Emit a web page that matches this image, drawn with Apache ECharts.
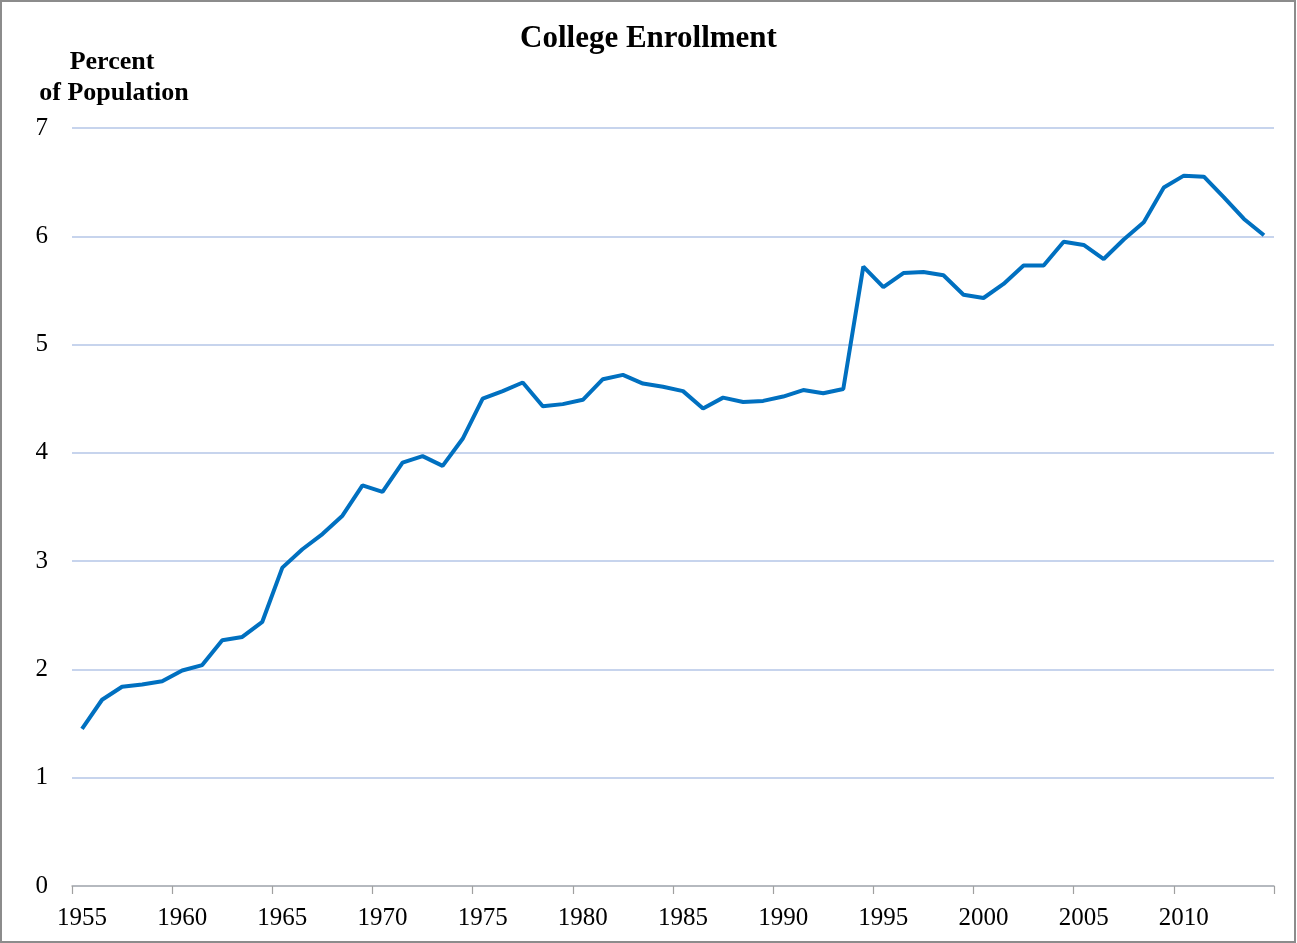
<!DOCTYPE html>
<html>
<head>
<meta charset="utf-8">
<title>College Enrollment</title>
<script src="https://cdn.jsdelivr.net/npm/echarts@6/dist/echarts.min.js"></script>
<style>
  html, body { margin: 0; padding: 0; background: #fff; }
  #chart { position: absolute; left: 0; top: 0; width: 1297px; height: 943px; }
  #frame {
    position: absolute; left: 0; top: 0; width: 1296px; height: 943px;
    box-sizing: border-box; border: 2px solid #8c8c8c; pointer-events: none;
  }
</style>
</head>
<body>
<div id="chart"></div>
<div id="frame"></div>
<script>
// years 1955 - 2014
const years = []
for (let y = 1955; y <= 2014; y++) years.push(String(y))

// percent of population enrolled in college
const enrollment = [
  1.45, 1.72, 1.84, 1.86, 1.89, 1.99, 2.04, 2.27, 2.30, 2.44,
  2.94, 3.11, 3.25, 3.42, 3.70, 3.64, 3.91, 3.97, 3.88, 4.13,
  4.50, 4.57, 4.65, 4.43, 4.45, 4.49, 4.68, 4.72, 4.64, 4.61,
  4.57, 4.41, 4.51, 4.47, 4.48, 4.52, 4.58, 4.55, 4.59, 5.72,
  5.53, 5.66, 5.67, 5.64, 5.46, 5.43, 5.56, 5.73, 5.73, 5.95,
  5.92, 5.79, 5.97, 6.13, 6.45, 6.56, 6.55, 6.36, 6.16, 6.01
]

const serif = '"Liberation Serif", "Times New Roman", serif'

const chart = echarts.init(document.getElementById('chart'))
chart.setOption({
  animation: false,
  title: {
    text: 'College Enrollment',
    left: 'center',
    top: 18,
    textStyle: { fontFamily: serif, fontSize: 31, fontWeight: 'bold', color: '#000' }
  },
  graphic: [
    {
      type: 'text',
      x: 112,
      y: 62,
      style: {
        text: 'Percent',
        font: 'bold 26px ' + serif,
        align: 'center', textAlign: 'center',
        verticalAlign: 'middle', textVerticalAlign: 'middle',
        fill: '#000'
      }
    },
    {
      type: 'text',
      x: 114,
      y: 93,
      style: {
        text: 'of Population',
        font: 'bold 26px ' + serif,
        align: 'center', textAlign: 'center',
        verticalAlign: 'middle', textVerticalAlign: 'middle',
        fill: '#000'
      }
    }
  ],
  grid: { left: 72, right: 23, top: 128, bottom: 57, containLabel: false },
  xAxis: {
    type: 'category',
    data: years,
    boundaryGap: true,
    axisLine: { lineStyle: { color: '#b0b0b0', width: 1.5 } },
    axisTick: { show: true, interval: 4, length: 8, lineStyle: { color: '#a0a0a0', width: 1.2 } },
    axisLabel: {
      interval: 4,
      margin: 20,
      fontFamily: serif,
      fontSize: 25,
      color: '#000'
    },
    splitLine: { show: false }
  },
  yAxis: {
    type: 'value',
    min: 0,
    max: 7,
    interval: 1,
    axisLine: { show: false },
    axisTick: { show: false },
    axisLabel: { margin: 24, fontFamily: serif, fontSize: 25, color: '#000' },
    splitLine: { lineStyle: { color: '#b4c6e7', width: 1.5 } }
  },
  series: [{
    name: 'College Enrollment',
    type: 'line',
    data: enrollment,
    showSymbol: false,
    symbol: 'none',
    lineStyle: { color: '#0070c0', width: 4 },
    itemStyle: { color: '#0070c0' }
  }]
})
</script>
</body>
</html>
